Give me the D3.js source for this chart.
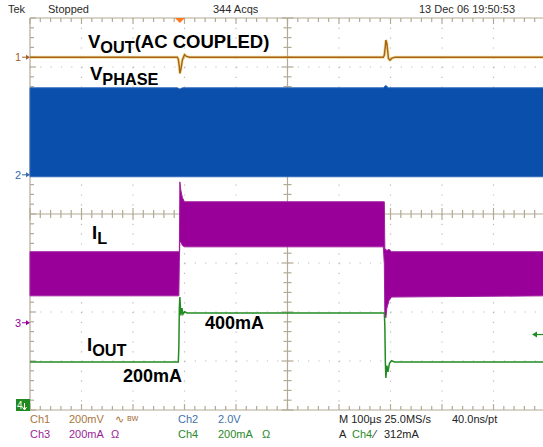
<!DOCTYPE html>
<html>
<head>
<meta charset="utf-8">
<script src="https://cdn.jsdelivr.net/npm/d3@7"></script>
<style>
  body { margin: 0; background: #fff; }
  text { font-family: "Liberation Sans", Arial, sans-serif; }
</style>
</head>
<body>
<div id="chart"></div>
<script>
// Scope capture: 10 div x 100us, 8 vertical divisions
const timeDomain = [0, 1000];          // us across the screen
const divDomain = [-4, 4];

// Ch1 VOUT (AC coupled), mV, 200mV/div
const voutTimes = [0, 286, 288, 290, 291, 293, 296, 300, 304, 310, 686, 688, 690, 691, 693, 696, 699, 703, 709, 1000];
const voutMv    = [0,   0,  -8, -40, -66, -50, -10,  10,   3,   0,   0,   8,  45,  70,  55,  -5, -12,  -4,   0,    0];

// Ch2 VPHASE switching envelope, V, 2V/div
const vphTimes = [0, 286, 291, 296, 686, 691, 696, 1000];
const vphUpper = [3.55, 3.55, 3.5, 3.55, 3.55, 3.65, 3.55, 3.55];
const vphLower = [-0.08, -0.08, -0.08, -0.08, -0.08, -0.08, -0.08, -0.08];

// Ch3 IL ripple envelope, mA, 200mA/div
const ilTimes = [0, 289, 290, 291, 293, 296, 300, 686, 688, 689, 691, 693, 697, 702, 1000];
const ilUpper = [290, 290, 290, 575, 540, 510, 494, 494, 494, 300, 300, 295, 300, 290, 290];
const ilLower = [110, 110, 250, 330, 330, 315, 310, 310, 240,  30,  20,  60,  90, 105, 110];

// Ch4 IOUT, mA, 200mA/div
const ioutTimes = [0, 288, 289, 290, 291, 293, 295, 297, 300, 305, 688, 689, 690, 691, 693, 695, 698, 702, 708, 1000];
const ioutMa    = [200, 200, 260, 420, 465, 390, 420, 395, 405, 400, 400, 350, 200, 135, 185, 160, 195, 205, 200, 200];

// channel settings: scale per div and screen offset (div)
const chScale  = { ch1: 200, ch2: 2, ch3: 200, ch4: 200 };
const chOffset = { ch1: 3.2, ch2: 0.8, ch3: -2.22, ch4: -4.02 };

const headerLabels = ['Tek', 'Stopped', '344 Acqs', '13 Dec 06 19:50:53'];

const W = 543, H = 447;
const svg = d3.select('#chart').append('svg')
    .attr('width', W)
    .attr('height', H);

const x = d3.scaleLinear().domain(timeDomain).range([30, 545]);
const yDiv = d3.scaleLinear().domain(divDomain).range([410, 18]);
const yCh = ch => v => yDiv(v / chScale[ch] + chOffset[ch]);

const frameColor = '#b3aa94';
const gridColor = '#b9b9b9';

// grid dots
const grid = svg.append('g');
const minorX = 51.5 / 5, minorY = 49 / 5;
d3.range(1, 10).filter(i => i !== 5).forEach(i => {
    const gx = x(i * 100);
    grid.append('line')
        .attr('x1', gx).attr('x2', gx).attr('y1', 18).attr('y2', 410)
        .attr('stroke', gridColor).attr('stroke-width', 1.2)
        .attr('stroke-dasharray', `1.2,${minorY - 1.2}`);
});
d3.range(-3, 4).filter(i => i !== 0).forEach(i => {
    const gy = yDiv(i);
    grid.append('line')
        .attr('x1', 30).attr('x2', 545).attr('y1', gy).attr('y2', gy)
        .attr('stroke', gridColor).attr('stroke-width', 1.2)
        .attr('stroke-dasharray', `1.2,${minorX - 1.2}`);
});

// frame + centre axes with minor ticks
const frame = svg.append('g').attr('stroke', frameColor).attr('stroke-width', 1.2);
frame.append('line').attr('x1', 30).attr('x2', 545).attr('y1', 18).attr('y2', 18);
frame.append('line').attr('x1', 30).attr('x2', 545).attr('y1', 410).attr('y2', 410);
frame.append('line').attr('x1', 30).attr('x2', 30).attr('y1', 18).attr('y2', 410);
frame.append('line').attr('x1', 30).attr('x2', 545).attr('y1', yDiv(0)).attr('y2', yDiv(0));
frame.append('line').attr('x1', x(500)).attr('x2', x(500)).attr('y1', 18).attr('y2', 410);

d3.range(0, 51).forEach(k => {
    const tx = 30 + k * minorX;
    const major = k % 5 === 0;
    const len = major ? 6 : 4;
    frame.append('line').attr('x1', tx).attr('x2', tx).attr('y1', 18).attr('y2', 18 + len);
    frame.append('line').attr('x1', tx).attr('x2', tx).attr('y1', 410).attr('y2', 410 - len);
    frame.append('line').attr('x1', tx).attr('x2', tx).attr('y1', yDiv(0) - len).attr('y2', yDiv(0) + len);
});
d3.range(0, 41).forEach(k => {
    const ty = 18 + k * minorY;
    const major = k % 5 === 0;
    const len = major ? 6 : 4;
    frame.append('line').attr('x1', 30).attr('x2', 30 + len).attr('y1', ty).attr('y2', ty);
    frame.append('line').attr('x1', x(500) - len).attr('x2', x(500) + len).attr('y1', ty).attr('y2', ty);
});

// Ch2 VPHASE band
const y2 = yCh('ch2');
svg.append('path')
    .datum(vphTimes.map((t, i) => [t, vphUpper[i], vphLower[i]]))
    .attr('fill', '#0b4fad')
    .attr('stroke', '#2f68b8')
    .attr('stroke-width', 1)
    .attr('d', d3.area().x(d => x(d[0])).y0(d => y2(d[2])).y1(d => y2(d[1])));

// Ch3 IL band
const y3 = yCh('ch3');
svg.append('path')
    .datum(ilTimes.map((t, i) => [t, ilUpper[i], ilLower[i]]))
    .attr('fill', '#990099')
    .attr('stroke', '#a020a0')
    .attr('stroke-width', 1)
    .attr('d', d3.area().x(d => x(d[0])).y0(d => y3(d[2])).y1(d => y3(d[1])));

// Ch4 IOUT
const y4 = yCh('ch4');
svg.append('path')
    .datum(ioutTimes.map((t, i) => [t, ioutMa[i]]))
    .attr('fill', 'none')
    .attr('stroke', '#238b23')
    .attr('stroke-width', 1.5)
    .attr('d', d3.line().x(d => x(d[0])).y(d => y4(d[1])));

// Ch1 VOUT with yellowish glow
const y1 = yCh('ch1');
const voutLine = d3.line().x(d => x(d[0])).y(d => y1(d[1]));
const voutData = voutTimes.map((t, i) => [t, voutMv[i]]);
svg.append('path').datum(voutData)
    .attr('fill', 'none').attr('stroke', '#e8c64a').attr('stroke-width', 3).attr('opacity', 0.6)
    .attr('d', voutLine);
svg.append('path').datum(voutData)
    .attr('fill', 'none').attr('stroke', '#a5631c').attr('stroke-width', 1.4)
    .attr('d', voutLine);

// channel ground markers
const markers = [
    { label: '1', ch: 'ch1', color: '#a0642c' },
    { label: '2', ch: 'ch2', color: '#3a6aa8' },
    { label: '3', ch: 'ch3', color: '#990099' }
];
markers.forEach(m => {
    const my = yCh(m.ch)(0);
    svg.append('text').attr('x', 15).attr('y', my + 4)
        .attr('font-size', 11).attr('fill', m.color).text(m.label);
    svg.append('line').attr('x1', 22).attr('x2', 28).attr('y1', my).attr('y2', my)
        .attr('stroke', m.color).attr('stroke-width', 1);
    svg.append('path').attr('d', `M30,${my} L26,${my - 2.5} L26,${my + 2.5} Z`).attr('fill', m.color);
});
// ch4 marker is off the bottom
svg.append('rect').attr('x', 16).attr('y', 399).attr('width', 14).attr('height', 12).attr('fill', '#1f8a1f');
svg.append('text').attr('x', 17).attr('y', 409).attr('font-size', 10).attr('fill', '#fff').text('4');
svg.append('path').attr('d', 'M24.5,403 L24.5,409 M22.5,407 L24.5,410 L26.5,407')
    .attr('stroke', '#fff').attr('fill', 'none').attr('stroke-width', 1);

// trigger position and level markers
svg.append('path').attr('d', `M${x(291) - 5},18 L${x(291) + 5},18 L${x(291)},23 Z`).attr('fill', '#ff7a1e');
const trigY = y4(312);
svg.append('path').attr('d', `M532,${trigY} L537,${trigY - 3} L537,${trigY + 3} Z`).attr('fill', '#238b23');
svg.append('line').attr('x1', 536).attr('x2', 543).attr('y1', trigY).attr('y2', trigY)
    .attr('stroke', '#238b23').attr('stroke-width', 1.2);

// header
const header = svg.append('g').attr('font-size', 11).attr('fill', '#2a2a2a');
header.append('text').attr('x', 8).attr('y', 13).text(headerLabels[0]);
header.append('text').attr('x', 48).attr('y', 13).text(headerLabels[1]);
header.append('text').attr('x', 213).attr('y', 13).text(headerLabels[2]);
header.append('text').attr('x', 419).attr('y', 13).text(headerLabels[3]);

// trace annotations
function subLabel(xp, yp, main, sub, rest, size) {
    const t = svg.append('text').attr('x', xp).attr('y', yp)
        .attr('font-size', size).attr('font-weight', 'bold').attr('fill', '#000');
    t.append('tspan').text(main);
    t.append('tspan').attr('dy', 5).attr('font-size', size * 0.88).text(sub);
    if (rest) t.append('tspan').attr('dy', -5).text(rest);
}
subLabel(88, 48, 'V', 'OUT', '(AC COUPLED)', 18.5);
subLabel(90, 80, 'V', 'PHASE', null, 18.5);
subLabel(92, 239, 'I', 'L', null, 18.5);
subLabel(87, 351, 'I', 'OUT', null, 18.5);
svg.append('text').attr('x', 205).attr('y', 329).attr('font-size', 18).attr('font-weight', 'bold').text('400mA');
svg.append('text').attr('x', 123).attr('y', 382).attr('font-size', 18).attr('font-weight', 'bold').text('200mA');

// footer readout
const footer = svg.append('g').attr('font-size', 11);
const foot = (xp, yp, txt, color) => footer.append('text').attr('x', xp).attr('y', yp).attr('fill', color).text(txt);
const c1 = '#a8763e', c2 = '#3f72ad', c3 = '#9a1e9a', c4 = '#2a8a2a', k = '#222';
foot(30, 423, 'Ch1', c1);
foot(69, 423, '200mV', c1);
foot(115, 423, '∿', c1);
foot(127, 421, 'ʙᴡ', c1).attr('font-size', 9);
foot(178, 423, 'Ch2', c2);
foot(218, 423, '2.0V', c2);
foot(339, 423, 'M 100µs 25.0MS/s', k);
foot(452, 423, '40.0ns/pt', k);
foot(30, 438, 'Ch3', c3);
foot(69, 438, '200mA', c3);
foot(111, 438, 'Ω', c3);
foot(178, 438, 'Ch4', c4);
foot(218, 438, '200mA', c4);
foot(262, 438, 'Ω', c4);
foot(339, 438, 'A', k);
foot(352, 438, 'Ch4', c4);
foot(374, 438, '⁄', k);
foot(384, 438, '312mA', k);
</script>
</body>
</html>
